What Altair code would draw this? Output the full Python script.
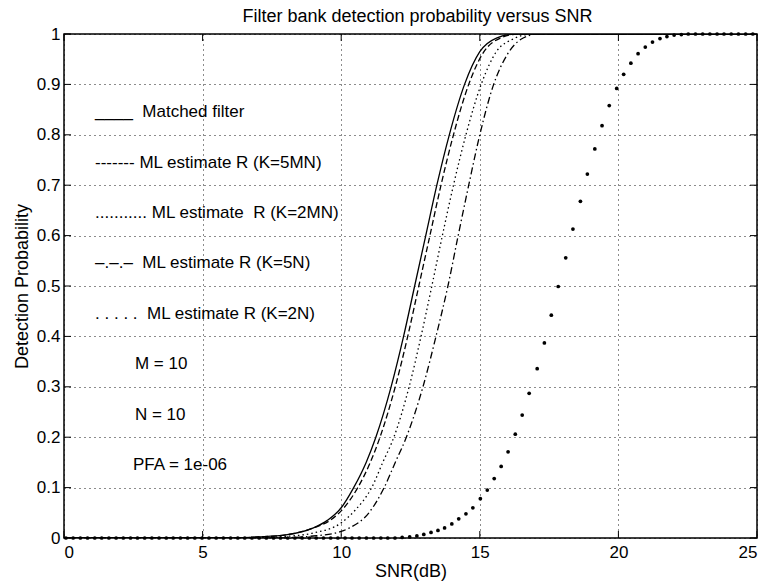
import altair as alt
import pandas as pd

FONT = "Liberation Sans, Arial, Helvetica, sans-serif"

# ---- axis ticks ----
x_ticks = [0, 5, 10, 15, 20, 25]
y_ticks = [0, 0.1, 0.2, 0.3, 0.4, 0.5, 0.6, 0.7, 0.8, 0.9, 1.0]

# ---- Matched filter (solid) ----
snr_mf = [0, 6, 7, 8, 9, 9.5, 10, 10.45, 10.9, 11.25, 11.8, 12.25, 12.65, 13.05,
          13.45, 13.9, 14.45, 15.0, 15.6, 16.3, 25]
pd_mf = [0, 0, 0.002, 0.006, 0.02, 0.035, 0.06, 0.1, 0.15, 0.2, 0.3, 0.4, 0.5, 0.6,
         0.7, 0.8, 0.9, 0.965, 0.992, 1.0, 1.0]

# ---- ML estimate R (K=5MN) (dashed) ----
snr_5mn = [0, 6, 7, 8, 9, 9.6, 10.1, 10.6, 11.05, 11.4, 11.95, 12.4, 12.8, 13.2,
           13.6, 14.05, 14.6, 15.15, 15.75, 16.4, 25]
pd_5mn = [0, 0, 0.002, 0.006, 0.02, 0.035, 0.06, 0.1, 0.15, 0.2, 0.3, 0.4, 0.5, 0.6,
          0.7, 0.8, 0.9, 0.965, 0.992, 1.0, 1.0]

# ---- ML estimate R (K=2MN) (dotted) ----
snr_2mn = [0, 7, 8, 9, 10, 10.5, 11.1, 11.5, 11.9, 12.45, 12.88, 13.27, 13.65, 14.05,
           14.5, 15.05, 15.6, 16.2, 16.9, 25]
pd_2mn = [0, 0, 0.003, 0.01, 0.03, 0.055, 0.1, 0.15, 0.2, 0.3, 0.4, 0.5, 0.6, 0.7,
          0.8, 0.9, 0.965, 0.99, 1.0, 1.0]

# ---- ML estimate R (K=5N) (dash-dot) ----
snr_5n = [0, 7.5, 9, 10, 10.3, 11, 11.55, 11.95, 12.35, 12.95, 13.42, 13.85, 14.22,
          14.6, 15.0, 15.5, 16.0, 16.5, 17.1, 25]
pd_5n = [0, 0, 0.004, 0.013, 0.02, 0.05, 0.1, 0.15, 0.2, 0.3, 0.4, 0.5, 0.6,
         0.7, 0.8, 0.9, 0.96, 0.99, 1.0, 1.0]

# ---- ML estimate R (K=2N) (dots) ----
snr_2n = [0.07, 0.33, 0.59, 0.85, 1.11, 1.36, 1.62, 1.88, 2.14, 2.40, 2.65, 2.91,
          3.17, 3.43, 3.69, 3.94, 4.20, 4.46, 4.72, 4.98, 5.23, 5.49, 5.75, 6.01,
          6.27, 6.52, 6.78, 7.04, 7.30, 7.56, 7.81, 8.07, 8.33, 8.59, 8.85, 9.10,
          9.36, 9.62, 9.88, 10.14, 10.39, 10.65, 10.91, 11.17, 11.43, 11.68, 11.94,
          12.20, 12.47, 12.73, 12.98, 13.24, 13.49, 13.73, 13.99, 14.24, 14.50,
          14.75, 15.02, 15.27, 15.52, 15.77, 16.02, 16.28, 16.53, 16.78, 17.07,
          17.33, 17.58, 17.83, 18.10, 18.36, 18.63, 18.88, 19.15, 19.41, 19.67,
          19.94, 20.19, 20.45, 20.71, 20.97, 21.23, 21.50, 21.75, 22.01, 22.27,
          22.52, 22.78, 23.04, 23.30, 23.56, 23.81, 24.07, 24.33, 24.59, 24.85]
pd_2n = [0] * 47 + [
    0.001, 0.002, 0.004, 0.007, 0.011, 0.015, 0.020, 0.028, 0.038, 0.048,
    0.060, 0.078, 0.095, 0.118, 0.142, 0.171, 0.206, 0.244, 0.287, 0.336,
    0.387, 0.442, 0.499, 0.556, 0.613, 0.668, 0.722, 0.772, 0.818, 0.858,
    0.892, 0.920, 0.942, 0.961, 0.974, 0.984, 0.991, 0.995, 0.998, 0.999,
    1.0, 1.0, 1.0, 1.0, 1.0, 1.0, 1.0, 1.0, 1.0, 1.0]

# ---- in-plot text annotations ----
note_text = [
    "____\u00a0 Matched filter",
    "------- ML estimate R (K=5MN)",
    "........... ML estimate\u00a0 R (K=2MN)",
    "\u2013.\u2013.\u2013\u00a0 ML estimate R (K=5N)",
    ". . . . .\u00a0 ML estimate R (K=2N)",
    "M = 10",
    "N = 10",
    "PFA = 1e-06",
]
note_x = [1.12, 1.12, 1.12, 1.12, 1.12, 2.56, 2.56, 2.49]
note_y = [0.835, 0.735, 0.635, 0.535, 0.435, 0.335, 0.235, 0.135]

x_enc = alt.X("snr:Q", scale=alt.Scale(domain=[0, 25], nice=False, zero=False),
              axis=alt.Axis(values=x_ticks, title="SNR(dB)", format="~g",
                            labelPadding=6, titlePadding=2))
y_enc = alt.Y("pd:Q", scale=alt.Scale(domain=[0, 1], nice=False, zero=False),
              axis=alt.Axis(values=y_ticks, title="Detection Probability", format="~g",
                            labelPadding=4, titlePadding=5))


def curve(snr, pdv, dash=None):
    df = pd.DataFrame({"snr": snr, "pd": pdv})
    kw = dict(color="black", strokeWidth=1.3, interpolate="monotone", clip=True)
    if dash is not None:
        kw["strokeDash"] = dash
    return alt.Chart(df).mark_line(**kw).encode(x=x_enc, y=y_enc)


l_mf = curve(snr_mf, pd_mf)
l_5mn = curve(snr_5mn, pd_5mn, [6, 3])
l_2mn = curve(snr_2mn, pd_2mn, [1.5, 3])
l_5n = curve(snr_5n, pd_5n, [7, 3, 1.5, 3])

dots = alt.Chart(pd.DataFrame({"snr": snr_2n, "pd": pd_2n})).mark_circle(
    size=14, color="black", opacity=1).encode(x=x_enc, y=y_enc)

notes = alt.Chart(pd.DataFrame({"snr": note_x, "pd": note_y, "t": note_text})).mark_text(
    align="left", baseline="alphabetic", font=FONT, fontSize=17, color="black"
).encode(x=x_enc, y=y_enc, text="t:N")

# inward MATLAB-style ticks
xt = pd.DataFrame({"snr": x_ticks})
yt = pd.DataFrame({"pd": y_ticks})
tick_b = alt.Chart(xt).mark_rule(color="black", strokeWidth=1, y2Offset=-7).encode(
    x=x_enc, y=alt.datum(0), y2=alt.datum(0))
tick_t = alt.Chart(xt).mark_rule(color="black", strokeWidth=1, y2Offset=7).encode(
    x=x_enc, y=alt.datum(1), y2=alt.datum(1))
tick_l = alt.Chart(yt).mark_rule(color="black", strokeWidth=1, x2Offset=7).encode(
    y=y_enc, x=alt.datum(0), x2=alt.datum(0))
tick_r = alt.Chart(yt).mark_rule(color="black", strokeWidth=1, x2Offset=-7).encode(
    y=y_enc, x=alt.datum(25), x2=alt.datum(25))

chart = alt.layer(
    l_mf, l_5mn, l_2mn, l_5n, dots, notes, tick_b, tick_t, tick_l, tick_r
).properties(
    width=693, height=504,
    title=alt.TitleParams("Filter bank detection probability versus SNR", font=FONT,
                          fontSize=18, fontWeight="normal", color="black",
                          offset=8, dx=7, dy=9, anchor="middle"),
    autosize="none",
    background="white",
    padding={"left": 64, "top": 34, "right": 11, "bottom": 46},
).configure_view(
    stroke="black", strokeWidth=1.5
).configure_axis(
    domain=False, ticks=False, tickSize=0, grid=True, gridColor="black",
    gridDash=[1, 4], gridWidth=1, gridOpacity=0.9,
    labelFont=FONT, labelFontSize=17, labelColor="black",
    titleFont=FONT, titleFontSize=18, titleFontWeight="normal", titleColor="black",
)

chart.save("out.html", embed_options={"renderer": "svg", "actions": False})
